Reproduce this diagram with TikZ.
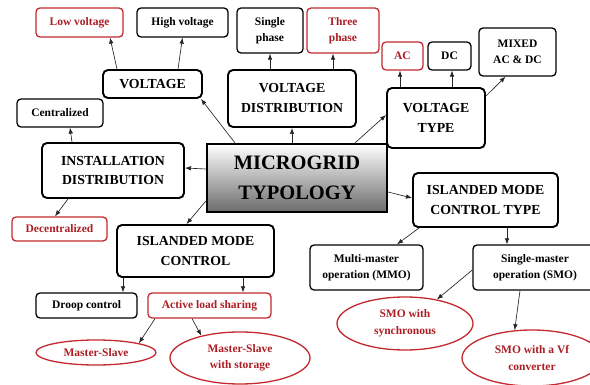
\documentclass[tikz,border=0pt]{standalone}
\usepackage{fontspec}
\setmainfont{Liberation Serif}[BoldFont={Liberation Serif Bold}]
\newfontfamily\diagfont{Liberation Serif}[BoldFont={Liberation Serif Bold}]
\usetikzlibrary{arrows.meta,shapes.geometric}
\definecolor{redline}{RGB}{196,40,48}
\definecolor{redtext}{RGB}{172,30,36}

\begin{document}
\begin{tikzpicture}[
  x=1pt, y=-1pt,
  leaf/.style={draw=black, line width=1.3pt, rounded corners=4pt, align=center,
    inner sep=0pt, font=\diagfont\fontsize{11.5}{16.5}\selectfont\bfseries},
  redleaf/.style={leaf, draw=redline, text=redtext},
  head/.style={leaf, line width=1.9pt, rounded corners=5pt,
    font=\diagfont\fontsize{13.8}{20}\selectfont\bfseries},
  oval/.style={ellipse, draw=redline, line width=1.3pt, text=redtext, align=center,
    inner sep=0pt, font=\diagfont\fontsize{11.5}{16.5}\selectfont\bfseries},
  root/.style={draw=black, line width=2.2pt, top color=white, bottom color=black!58,
    align=center, inner sep=0pt, font=\diagfont\fontsize{20.5}{30}\selectfont\bfseries},
  arr/.style={-{Latex[length=6pt,width=4.5pt]}, black!85, line width=0.65pt}
]
\clip (0,0) rectangle (590,385);
\fill[white] (0,0) rectangle (590,385);

% centre
\node[root, minimum width=180pt, minimum height=68pt] (micro) at (297,178) {MICROGRID\\ TYPOLOGY};

% main branches
\node[head, minimum width=99pt, minimum height=28pt] (voltage) at (152.5,84) {VOLTAGE};
\node[head, minimum width=128pt, minimum height=57pt] (vdist) at (292,98.5) {VOLTAGE\\ DISTRIBUTION};
\node[head, minimum width=98pt, minimum height=60pt] (vtype) at (436,118) {VOLTAGE\\ TYPE};
\node[head, minimum width=142pt, minimum height=55pt] (install) at (113,170.5) {INSTALLATION\\ DISTRIBUTION};
\node[head, minimum width=145pt, minimum height=54pt] (imct) at (485.5,200) {ISLANDED MODE\\ CONTROL TYPE};
\node[head, minimum width=157pt, minimum height=52pt] (imc) at (195.5,251) {ISLANDED MODE\\ CONTROL};

% leaves
\node[redleaf, minimum width=87pt, minimum height=29pt] (lowv) at (79.5,22.5) {Low voltage};
\node[leaf, minimum width=91pt, minimum height=29pt] (highv) at (182.5,22.5) {High voltage};
\node[leaf, minimum width=66pt, minimum height=45pt] (single) at (270,30.5) {Single\\ phase};
\node[redleaf, minimum width=72pt, minimum height=45pt] (three) at (343,30.5) {Three\\ phase};
\node[redleaf, minimum width=41pt, minimum height=28pt] (ac) at (402.5,56) {AC};
\node[leaf, minimum width=43pt, minimum height=28pt] (dc) at (449.5,56) {DC};
\node[leaf, minimum width=77pt, minimum height=48pt] (mixed) at (517.5,52) {MIXED\\ AC \& DC};
\node[leaf, minimum width=86pt, minimum height=28pt] (central) at (60,113) {Centralized};
\node[redleaf, minimum width=95pt, minimum height=24pt] (decent) at (59.5,229) {Decentralized};
\node[leaf, minimum width=113pt, minimum height=45pt] (mmo) at (366.5,267.5) {Multi-master\\ operation (MMO)};
\node[leaf, minimum width=124pt, minimum height=45pt] (smo) at (535,267.5) {Single-master\\ operation (SMO)};
\node[leaf, minimum width=101pt, minimum height=25pt] (droop) at (86.5,305.5) {Droop control};
\node[redleaf, minimum width=123pt, minimum height=25pt] (active) at (209.5,305.5) {Active load sharing};

% ovals
\node[oval, minimum width=120pt, minimum height=25pt] (ms) at (96,352.5) {Master-Slave};
\node[oval, minimum width=140pt, minimum height=52pt] (mss) at (240,358) {Master-Slave\\ with storage};
\node[oval, minimum width=136pt, minimum height=53pt] (sync) at (405,323.5) {SMO with\\ synchronous};
\node[oval, minimum width=140pt, minimum height=56pt] (vf) at (532,358) {SMO with a Vf\\ converter};

% connectors
\draw[arr] ([xshift=-62pt]micro.north) -- ([xshift=-2pt]voltage.south east);
\draw[arr] (vdist.south |- micro.north) -- (vdist.south);
\draw[arr] ([xshift=58pt]micro.north) -- ([yshift=3pt]vtype.west);
\draw[arr] ([yshift=9pt]micro.west) -- ([yshift=2.5pt]install.east);
\draw[arr] ([yshift=-23pt]micro.west) -- ([xshift=-9pt]imc.north);
\draw[arr] ([yshift=-14pt]micro.east) -- ([yshift=2pt]imct.west);

\draw[arr] ([xshift=-35.5pt]voltage.north) -- ([xshift=30.5pt]lowv.south);
\draw[arr] ([xshift=25.5pt]voltage.north) -- (highv.south);
\draw[arr] (single.south |- vdist.north) -- (single.south);
\draw[arr] ([xshift=41pt]vdist.north) -- ([xshift=-10pt]three.south);
\draw[arr] ([xshift=-36pt]vtype.north) -- ([xshift=-2.5pt]ac.south);
\draw[arr] ([xshift=16pt]vtype.north) -- ([xshift=2.5pt]dc.south);
\draw[arr] ([yshift=-9pt]vtype.north east) -- ([xshift=-12pt]mixed.south);
\draw[arr] ([xshift=-41pt]install.north) -- ([xshift=10pt]central.south);
\draw[arr] ([xshift=-45pt]install.south) -- ([xshift=-4.5pt]decent.north);

\draw[arr] ([xshift=7pt]imct.south west) -- ([xshift=30.5pt]mmo.north);
\draw[arr] ([xshift=21.5pt]imct.south) -- ([xshift=-28pt]smo.north);
\draw[arr] ([xshift=-72.5pt]imc.south) -- ([xshift=36.5pt]droop.north);
\draw[arr] ([xshift=47.5pt]imc.south) -- ([xshift=33.5pt]active.north);
\draw[arr] ([xshift=-54.5pt]active.south) -- (ms.north east);
\draw[arr] ([xshift=-17.5pt]active.south) -- (mss.150);
\draw[arr] ([yshift=-2.5pt]smo.west) -- (sync.37);
\draw[arr] ([xshift=-15pt]smo.south) -- (vf.122);
\end{tikzpicture}
\end{document}
